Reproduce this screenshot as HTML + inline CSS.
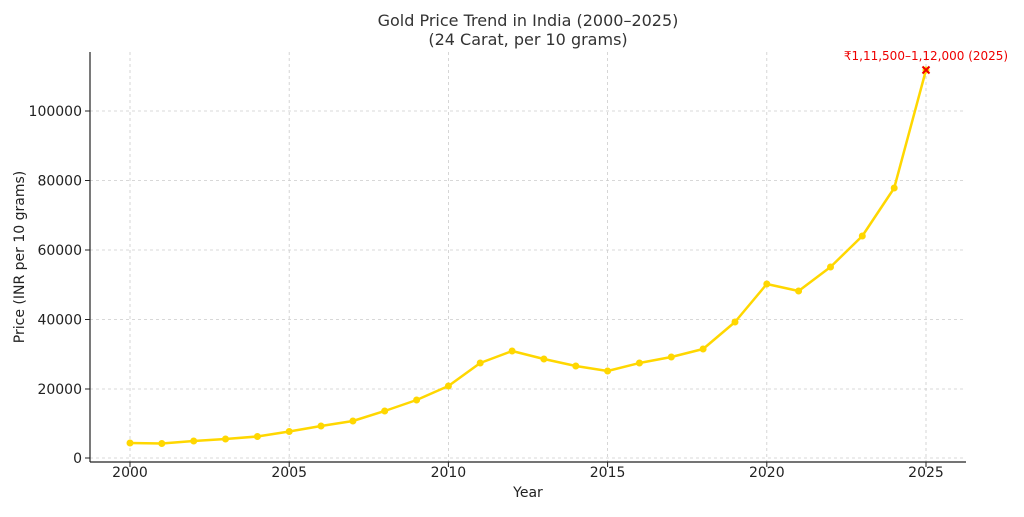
<!DOCTYPE html>
<html><head><meta charset="utf-8"><style>
body{margin:0;background:#fff;}
svg text{font-family:"DejaVu Sans","Liberation Sans",sans-serif;}
</style></head><body>
<svg width="1024" height="512" viewBox="0 0 1024 512" xmlns="http://www.w3.org/2000/svg">
<rect width="1024" height="512" fill="#fff"/>
<g stroke="#ccc" stroke-width="0.8" stroke-dasharray="3,3">
<line x1="130" y1="52" x2="130" y2="462"/><line x1="289.2" y1="52" x2="289.2" y2="462"/>
<line x1="448.4" y1="52" x2="448.4" y2="462"/><line x1="607.6" y1="52" x2="607.6" y2="462"/>
<line x1="766.8" y1="52" x2="766.8" y2="462"/><line x1="926" y1="52" x2="926" y2="462"/>
<line x1="90" y1="458" x2="966" y2="458"/><line x1="90" y1="389" x2="966" y2="389"/>
<line x1="90" y1="319.5" x2="966" y2="319.5"/><line x1="90" y1="250" x2="966" y2="250"/>
<line x1="90" y1="180.5" x2="966" y2="180.5"/><line x1="90" y1="111" x2="966" y2="111"/>
</g>
<g stroke="#222" stroke-width="1.2" fill="none">
<line x1="90" y1="52" x2="90" y2="462"/><line x1="90" y1="462" x2="966" y2="462"/>
</g>
<g stroke="#222" stroke-width="1">
<line x1="130" y1="462" x2="130" y2="467"/><line x1="289.2" y1="462" x2="289.2" y2="467"/>
<line x1="448.4" y1="462" x2="448.4" y2="467"/><line x1="607.6" y1="462" x2="607.6" y2="467"/>
<line x1="766.8" y1="462" x2="766.8" y2="467"/><line x1="926" y1="462" x2="926" y2="467"/>
<line x1="85" y1="458" x2="90" y2="458"/><line x1="85" y1="389" x2="90" y2="389"/>
<line x1="85" y1="319.5" x2="90" y2="319.5"/><line x1="85" y1="250" x2="90" y2="250"/>
<line x1="85" y1="180.5" x2="90" y2="180.5"/><line x1="85" y1="111" x2="90" y2="111"/>
</g>
<g font-size="14" fill="#222" text-anchor="middle">
<text x="130" y="477">2000</text><text x="289.2" y="477">2005</text><text x="448.4" y="477">2010</text>
<text x="607.6" y="477">2015</text><text x="766.8" y="477">2020</text><text x="926" y="477">2025</text>
</g>
<g font-size="14" fill="#222" text-anchor="end">
<text x="82" y="463">0</text><text x="82" y="394">20000</text><text x="82" y="324.5">40000</text>
<text x="82" y="255">60000</text><text x="82" y="185.5">80000</text><text x="82" y="116">100000</text>
</g>
<text x="528" y="497" font-size="14" fill="#222" text-anchor="middle">Year</text>
<text transform="translate(24,257) rotate(-90)" font-size="14" fill="#222" text-anchor="middle">Price (INR per 10 grams)</text>
<text x="528" y="26" font-size="16" fill="#333" text-anchor="middle">Gold Price Trend in India (2000–2025)</text>
<text x="528" y="45" font-size="16" fill="#333" text-anchor="middle">(24 Carat, per 10 grams)</text>
<polyline fill="none" stroke="#FFD700" stroke-width="2.5" stroke-linejoin="round"
points="130,443 161.8,443.5 193.7,441 225.5,439 257.4,436.5 289.2,431.5 321,426 352.9,421 384.7,411 416.6,400 448.4,386 480.2,363 512.1,351 543.9,359 575.8,366 607.6,371 639.4,363 671.3,357 703.1,349 735,322 766.8,284 798.6,291 830.5,267 862.3,236 894.2,188 926,70"/>
<g fill="#FFD700">
<circle cx="130" cy="443" r="3.5"/><circle cx="161.8" cy="443.5" r="3.5"/><circle cx="193.7" cy="441" r="3.5"/>
<circle cx="225.5" cy="439" r="3.5"/><circle cx="257.4" cy="436.5" r="3.5"/><circle cx="289.2" cy="431.5" r="3.5"/>
<circle cx="321" cy="426" r="3.5"/><circle cx="352.9" cy="421" r="3.5"/><circle cx="384.7" cy="411" r="3.5"/>
<circle cx="416.6" cy="400" r="3.5"/><circle cx="448.4" cy="386" r="3.5"/><circle cx="480.2" cy="363" r="3.5"/>
<circle cx="512.1" cy="351" r="3.5"/><circle cx="543.9" cy="359" r="3.5"/><circle cx="575.8" cy="366" r="3.5"/>
<circle cx="607.6" cy="371" r="3.5"/><circle cx="639.4" cy="363" r="3.5"/><circle cx="671.3" cy="357" r="3.5"/>
<circle cx="703.1" cy="349" r="3.5"/><circle cx="735" cy="322" r="3.5"/><circle cx="766.8" cy="284" r="3.5"/>
<circle cx="798.6" cy="291" r="3.5"/><circle cx="830.5" cy="267" r="3.5"/><circle cx="862.3" cy="236" r="3.5"/>
<circle cx="894.2" cy="188" r="3.5"/><circle cx="926" cy="70" r="3.5"/>
</g>
<g stroke="#e00" stroke-width="2"><line x1="922.5" y1="66.5" x2="929.5" y2="73.5"/><line x1="922.5" y1="73.5" x2="929.5" y2="66.5"/></g>
<text x="926" y="60" font-size="12" fill="#e00" text-anchor="middle">₹1,11,500–1,12,000 (2025)</text>
</svg>
</body></html>
